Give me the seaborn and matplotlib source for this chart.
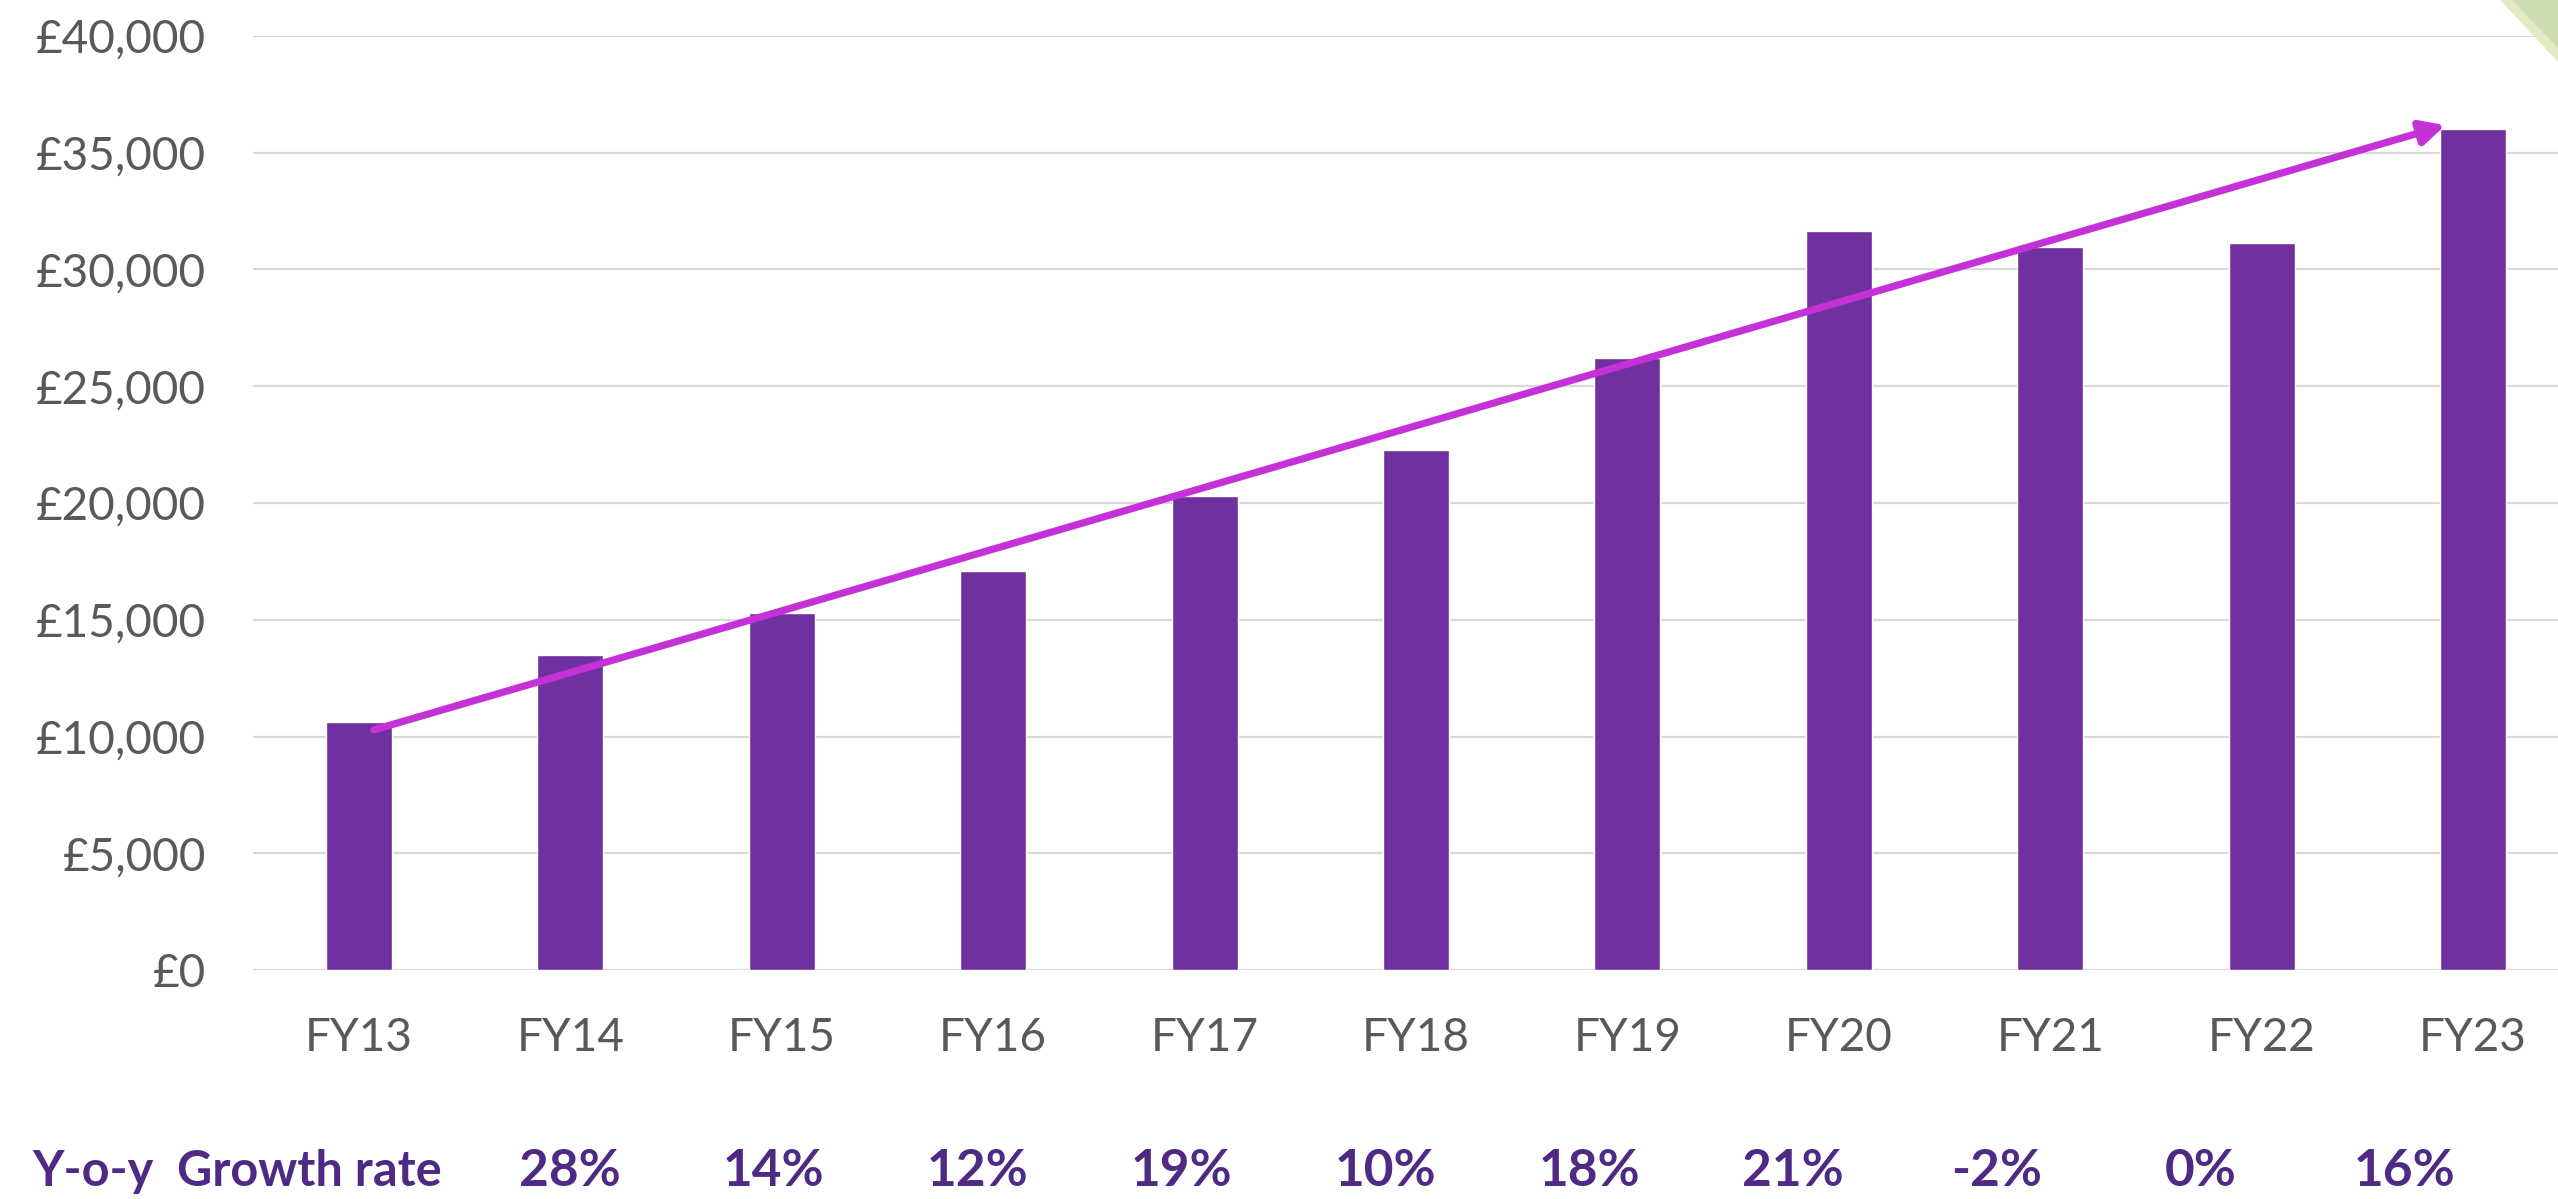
import matplotlib
matplotlib.use("Agg")
import matplotlib.pyplot as plt
from matplotlib.patches import Polygon
import seaborn as sns
import pandas as pd

# datos del gráfico
years = ["FY13", "FY14", "FY15", "FY16", "FY17", "FY18", "FY19", "FY20", "FY21", "FY22", "FY23"]
values = [10600, 13500, 15300, 17100, 20300, 22250, 26200, 31650, 30950, 31150, 36000]
growth_labels = ["28%", "14%", "12%", "19%", "10%", "18%", "21%", "-2%", "0%", "16%"]
y_ticks = [0, 5000, 10000, 15000, 20000, 25000, 30000, 35000, 40000]
row_title = "Y-o-y  Growth rate"

BAR_COLOR = "#7030A0"
ARROW_COLOR = "#C431D6"
GRID_COLOR = "#D9D9D9"
TICK_COLOR = "#595959"
GROWTH_COLOR = "#4E2A84"

sns.set_theme(style="white")
plt.rcParams["font.family"] = ["Lato", "DejaVu Sans"]

W, H = 2558, 1199
fig = plt.figure(figsize=(W / 100, H / 100), dpi=100)
# el eje se sale un poco por la derecha, como en el original
ax = fig.add_axes([253.3 / W, 229 / H, 2325.4 / W, 934 / H])

df = pd.DataFrame({"year": years, "value": values})
sns.barplot(data=df, x="year", y="value", color=BAR_COLOR, saturation=1,
            width=0.312, ax=ax, zorder=3)

ax.set_xlim(-0.5, 10.5)
ax.set_ylim(0, 40000)
ax.set_yticks(y_ticks)
ax.set_yticklabels([f"£{v:,}" for v in y_ticks])
ax.set_xlabel("")
ax.set_ylabel("")
ax.grid(axis="y", color=GRID_COLOR, linewidth=1.6, zorder=0)
ax.grid(axis="x", visible=False)
for s in ax.spines.values():
    s.set_visible(False)
ax.tick_params(axis="y", length=0, pad=34, labelsize=33, labelcolor=TICK_COLOR)
ax.tick_params(axis="x", length=0, pad=34, labelsize=33, labelcolor=TICK_COLOR)

# flecha de tendencia
ax.annotate("", xy=(9.87, values[-1] * 1.005), xytext=(0.07, values[0] * 0.97),
            arrowprops=dict(arrowstyle="-|>", color=ARROW_COLOR, lw=5.2,
                            mutation_scale=36, shrinkA=0, shrinkB=0),
            zorder=4)

# fila de crecimiento interanual
fig.text(32 / W, 1 - 1171 / H, row_title, ha="left", va="center",
         fontsize=35, fontweight="bold", color=GROWTH_COLOR)
for k, lab in enumerate(growth_labels):
    fig.text((570 + k * 203.8) / W, 1 - 1171 / H, lab, ha="center", va="center",
             fontsize=37, fontweight="bold", color=GROWTH_COLOR)

# adorno verde en la esquina
fig.patches.append(Polygon([(2500 / W, 1), (1, 1), (1, 1 - 62 / H)], closed=True,
                           transform=fig.transFigure, facecolor="#E4EBC4", edgecolor="none"))
fig.patches.append(Polygon([(2512 / W, 1), (1, 1), (1, 1 - 48 / H)], closed=True,
                           transform=fig.transFigure, facecolor="#CFDDB3", edgecolor="none"))

fig.savefig("out.png", dpi=100)
